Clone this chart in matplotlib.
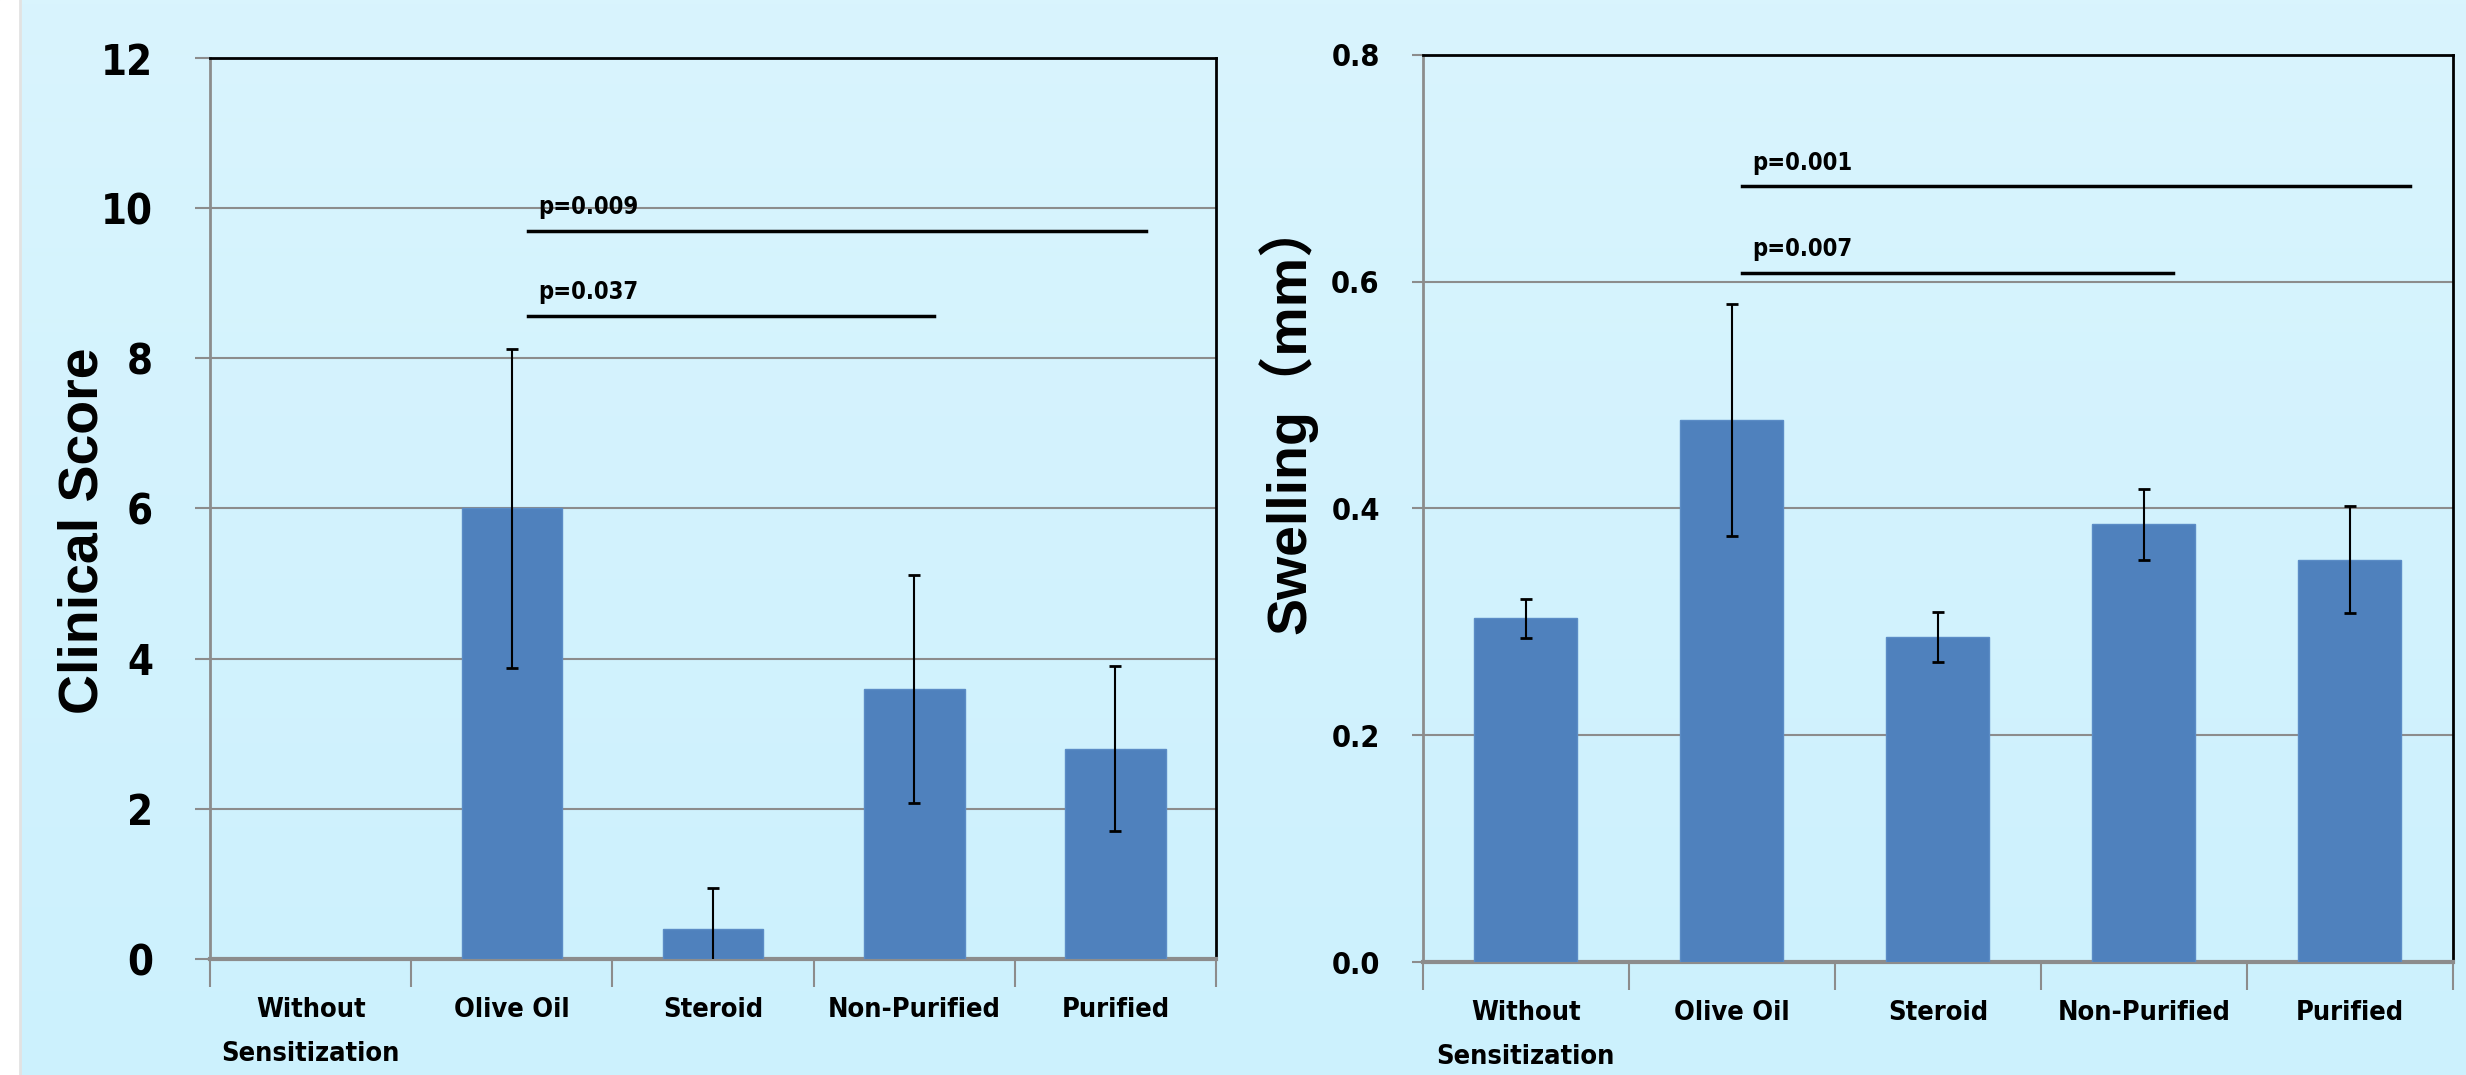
import numpy as np
import matplotlib
matplotlib.use("Agg")
import matplotlib.pyplot as plt

# Data ---
categories = ["Without\nSensitization", "Olive Oil", "Steroid", "Non-Purified", "Purified"]

clinical_mean = [0.0, 6.0, 0.4, 3.6, 2.8]
clinical_err = [0.0, 2.12, 0.55, 1.52, 1.1]

swelling_mean = [0.303, 0.478, 0.287, 0.386, 0.355]
swelling_err = [0.017, 0.102, 0.022, 0.031, 0.047]

# (x_start, x_end, y, label)
clinical_sig = [(1.08, 4.15, 9.70, "p=0.009"), (1.08, 3.10, 8.57, "p=0.037")]
swelling_sig = [(1.05, 4.29, 0.684, "p=0.001"), (1.05, 3.14, 0.608, "p=0.007")]

BAR = "#4F81BD"
GRID = "#8C8C8C"
NARROW = dict(family="DejaVu Sans", stretch="condensed", weight="bold")

fig = plt.figure(figsize=(24.66, 10.75), dpi=100)

# background gradient + white strip on the left
bg = fig.add_axes([0, 0, 1, 1], zorder=-10)
top_c = np.array([217, 244, 253]) / 255
bot_c = np.array([204, 241, 253]) / 255
t = np.linspace(0, 1, 256)[:, None]
grad = top_c * (1 - t[..., None]) + bot_c * t[..., None]
bg.imshow(np.repeat(grad, 2, axis=1), aspect="auto", extent=[0, 1, 0, 1])
bg.axvspan(0, 0.008, color="white")
bg.axvline(0.008, color="#E2E2E2", linewidth=2)
bg.set_xlim(0, 1)
bg.set_ylim(0, 1)
bg.axis("off")


def draw_panel(ax, means, errs, sig, ylim, yticks, fmt, tick_size, tick_len, tick_pad,
               ylabel, ylabel_xy):
    x = np.arange(len(categories))
    ax.set_facecolor("none")
    ax.bar(x, means, width=0.5, color=BAR, edgecolor="#5B8CC6", linewidth=1, zorder=3)
    # only bars that have a spread get an error bar
    has_err = np.array(errs) > 0
    ax.errorbar(x[has_err], np.array(means)[has_err], yerr=np.array(errs)[has_err],
                fmt="none", ecolor="black", elinewidth=1.5, capsize=4, capthick=2, zorder=4)
    ax.set_xlim(-0.5, len(categories) - 0.5)
    ax.set_ylim(*ylim)
    ax.set_yticks(yticks)
    ax.set_yticklabels([fmt.format(v) for v in yticks])
    ax.yaxis.grid(True, color=GRID, linewidth=1.5, zorder=0)
    ax.set_axisbelow(True)

    for side in ["top", "right"]:
        ax.spines[side].set_color("black")
        ax.spines[side].set_linewidth(2)
    ax.spines["left"].set_color(GRID)
    ax.spines["left"].set_linewidth(2)
    ax.spines["bottom"].set_color(GRID)
    ax.spines["bottom"].set_linewidth(3)

    ax.tick_params(axis="y", length=tick_len, width=1.5, color=GRID, pad=tick_pad)
    for lbl in ax.get_yticklabels():
        lbl.set_fontproperties(dict(NARROW, size=tick_size))

    # category ticks sit on the boundaries, labels in the middle
    ax.set_xticks(np.arange(len(categories) + 1) - 0.5)
    ax.set_xticklabels([])
    ax.tick_params(axis="x", length=20, width=1.5, color=GRID)
    for i, c in enumerate(categories):
        ax.text(i, -0.042, c, transform=ax.get_xaxis_transform(), ha="center", va="top",
                fontsize=19.5, linespacing=1.9, **NARROW)

    for x0, x1, y, lab in sig:
        ax.plot([x0, x1], [y, y], color="black", linewidth=2.5, zorder=5)
        ax.text(x0 + 0.05, y + (ylim[1] - ylim[0]) * 0.013, lab, ha="left", va="bottom",
                fontsize=17, **NARROW)

    fig.text(ylabel_xy[0], ylabel_xy[1], ylabel,
             rotation=90, ha="center", va="center", fontsize=40, fontweight="bold",
             family=["Liberation Sans", "Noto Sans CJK JP", "DejaVu Sans"])


ax1 = fig.add_axes([0.0852, 0.108, 0.4079, 0.838])
draw_panel(ax1, clinical_mean, clinical_err, clinical_sig, (0, 12),
           [0, 2, 4, 6, 8, 10, 12], "{:.0f}", 30, 11, 30,
           "Clinical Score", (0.034, 0.506))

ax2 = fig.add_axes([0.577, 0.105, 0.4177, 0.844])
draw_panel(ax2, swelling_mean, swelling_err, swelling_sig, (0, 0.8),
           [0.0, 0.2, 0.4, 0.6, 0.8], "{:.1f}", 22, 8, 23,
           "Swelling（mm）", (0.522, 0.612))

fig.savefig("out.png", dpi=100)
